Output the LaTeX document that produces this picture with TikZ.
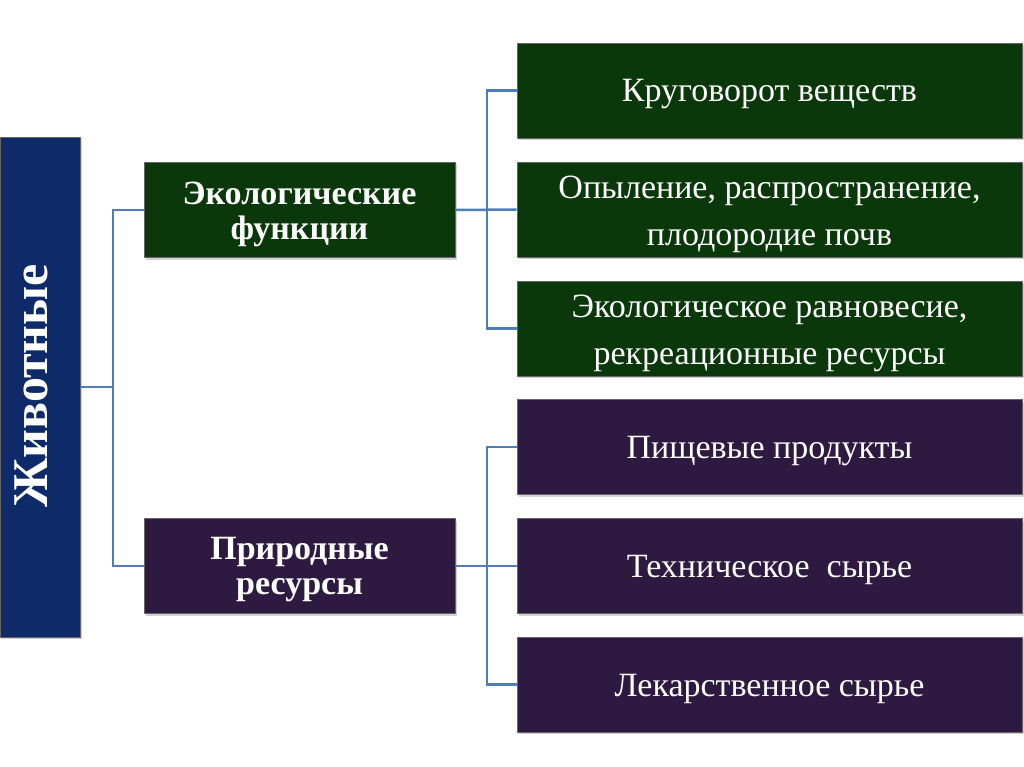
\documentclass[tikz,border=0pt]{standalone}
\usepackage{fontspec}
\setmainfont{Liberation Serif}
\usetikzlibrary{shadows}
\definecolor{navyc}{HTML}{0E2A68}
\definecolor{greenc}{HTML}{0B380B}
\definecolor{purplec}{HTML}{2E1A40}
\definecolor{linec}{HTML}{4F7DBA}
\tikzset{
  box/.style={draw=black!60, line width=0.6pt, inner sep=0pt,
    drop shadow={shadow xshift=1.5pt, shadow yshift=-2pt, opacity=0.35}},
  rootbox/.style={box, fill=navyc, minimum width=80pt, minimum height=500pt},
  midbox/.style={box, minimum width=311pt, minimum height=95pt},
  leafbox/.style={box, minimum width=505pt, minimum height=95pt},
  midtext/.style={text=white, align=center, inner sep=0pt, font=\fontsize{34}{35}\selectfont\bfseries},
  leaftext/.style={text=white, align=center, inner sep=0pt, font=\fontsize{34}{47}\selectfont},
  conn/.style={draw=linec, line width=2.5pt},
}
\begin{document}
\begin{tikzpicture}[x=1pt,y=-1pt]
\useasboundingbox (0,0) rectangle (1024,767);
\fill[white] (0,0) rectangle (1024,767);
\node[rootbox] (zh) at (40,387) {};
\node[rotate=90, text=white, font=\fontsize{50}{56}\selectfont\bfseries] (zht) at (31,386) {Животные};
\node[midbox, fill=greenc] (eco) at (299.5,210) {};
\node[midbox, fill=purplec] (pr) at (299.5,566) {};
\node[leafbox, fill=greenc] (r1) at (769.5,90.5) {};
\node[leafbox, fill=greenc] (r2) at (769.5,209.5) {};
\node[leafbox, fill=greenc] (r3) at (769.5,328.5) {};
\node[leafbox, fill=purplec] (r4) at (769.5,447) {};
\node[leafbox, fill=purplec] (r5) at (769.5,566) {};
\node[leafbox, fill=purplec] (r6) at (769.5,684.5) {};
\node[midtext] (ecot) at ([yshift=-4pt]eco.center) {Экологические\\функции};
\node[midtext] (prt) at ([yshift=-4pt]pr.center) {Природные\\ресурсы};
\node[leaftext] (r1t) at ([yshift=-4pt]r1.center) {Круговорот веществ};
\node[leaftext] (r2t) at ([yshift=-5pt]r2.center) {Опыление, распространение,\\плодородие почв};
\node[leaftext] (r3t) at ([yshift=-5pt]r3.center) {Экологическое равновесие,\\рекреационные ресурсы};
\node[leaftext] (r4t) at ([yshift=-4pt]r4.center) {Пищевые продукты};
\node[leaftext] (r5t) at ([yshift=-4pt]r5.center) {Техническое\ \ сырье};
\node[leaftext] (r6t) at ([yshift=-4pt]r6.center) {Лекарственное сырье};
\coordinate (j1) at (113,387);
\coordinate (j2) at (487,210);
\coordinate (j3) at (487,566);
\draw[conn] (zh.east) -- (j1);
\draw[conn] (eco.west) -| (j1);
\draw[conn] (pr.west) -| (j1);
\draw[conn] (eco.east) -- (r2.west);
\draw[conn] (r1.west) -| (j2);
\draw[conn] (r3.west) -| (j2);
\draw[conn] (pr.east) -- (r5.west);
\draw[conn] (r4.west) -| (j3);
\draw[conn] (r6.west) -| (j3);
\end{tikzpicture}
\end{document}
